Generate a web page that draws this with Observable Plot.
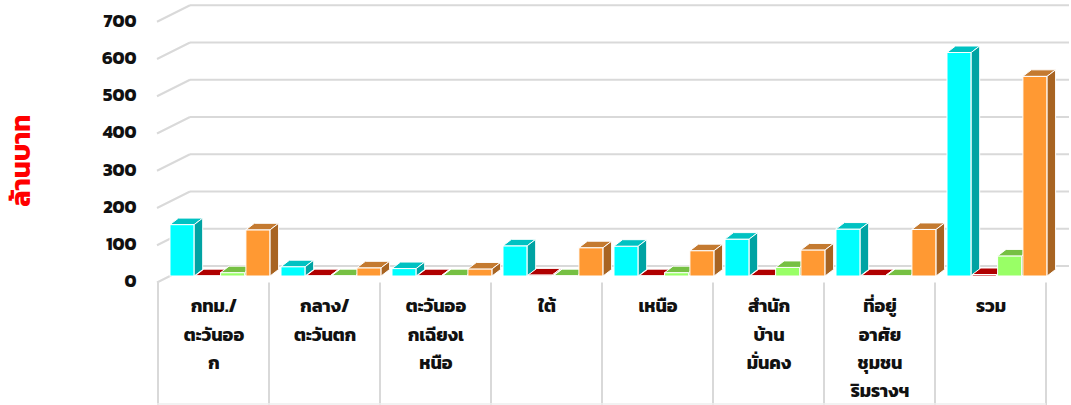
<!DOCTYPE html>
<html>
<head>
<meta charset="utf-8">
<script src="https://cdn.jsdelivr.net/npm/d3@7"></script>
<script src="https://cdn.jsdelivr.net/npm/@observablehq/plot@0.6"></script>
<style>
  html, body { margin: 0; padding: 0; background: #fff; }
  #chart svg { display: block; }
</style>
</head>
<body>
<div id="chart"></div>
<script>
// ---- data ----
const categories = ["กทม./ตะวันออก", "กลาง/ตะวันตก", "ตะวันออกเฉียงเหนือ", "ใต้", "เหนือ", "สำนักบ้านมั่นคง", "ที่อยู่อาศัยชุมชนริมรางฯ", "รวม"];
const categoryLabels = ["กทม./\nตะวันออ\nก", "กลาง/\nตะวันตก", "ตะวันออ\nกเฉียงเ\nหนือ", "ใต้", "เหนือ", "สำนัก\nบ้าน\nมั่นคง", "ที่อยู่\nอาศัย\nชุมชน\nริมรางฯ", "รวม"];
const seriesNames = ["ชุดที่ 1", "ชุดที่ 2", "ชุดที่ 3", "ชุดที่ 4"];
const series1 = [138, 25, 20, 81, 80, 99, 126, 600];   // cyan
const series2 = [1, 1, 1, 3, 1, 1, 1, 4];              // red
const series3 = [9, 1, 1, 1, 9, 23, 1, 54];            // green
const series4 = [124, 22, 19, 76, 68, 70, 125, 536];   // orange
const yTicks = [0, 100, 200, 300, 400, 500, 600, 700];
const yLabel = "ล้านบาท";

// ---- styles ----
const seriesValues = [series1, series2, series3, series4];
const fronts = ["#00FFFF", "#C00000", "#99FF66", "#FF9933"];
const tops   = ["#00C2C2", "#B00000", "#76C043", "#C47A30"];
const sides  = ["#00A3A3", "#8A0000", "#5E9F33", "#A86422"];
const FONT = "Kanit, Prompt, 'Noto Sans Thai', Tahoma, Loma, Garuda, 'Noto Sans', sans-serif";

const W = 1071, H = 405;
const mL = 157, mR = 25, mT = 15.25, mB = 129;
const BAND = (W - mL - mR) / categories.length;
const OFF = 12, STEP = 25.3, BW = 24.2;   // bar placement inside a category band
const DX = 8.5, DY = -6.5;               // bar depth
const WX = 33, WFront = 6.5, WBack = -10; // wall/floor depth

const rows = categories.flatMap((c, i) =>
  seriesNames.map((s, k) => ({cat: c, series: s, k, value: seriesValues[k][i]})));

// back-wall grid, left stubs, category dividers
function gridMark(index, scales) {
  const g = d3.create("svg:g").attr("fill", "none").attr("stroke", "#d9d9d9").attr("stroke-width", 2);
  for (const t of yTicks) {
    const y = scales.y(t);
    g.append("line").attr("x1", mL + WX).attr("x2", W - 2).attr("y1", y + WBack).attr("y2", y + WBack);
    g.append("line").attr("x1", mL).attr("x2", mL + WX).attr("y1", y + WFront).attr("y2", y + WBack);
  }
  const edges = categories.map(c => scales.x(c)).concat([scales.x(categories[categories.length - 1]) + scales.x.bandwidth()]);
  const y0 = scales.y(0) + WFront;
  for (const x of edges) {
    g.append("line").attr("x1", x).attr("x2", x).attr("y1", y0).attr("y2", H);
  }
  g.append("line").attr("x1", mL).attr("x2", edges[edges.length - 1]).attr("y1", H - 1).attr("y2", H - 1).attr("stroke-width", 1.5).attr("stroke", "#eeeeee");
  return g.node();
}

// top and side faces for one series
function facesMark(k) {
  return (index, scales) => {
    const g = d3.create("svg:g").attr("stroke", "#ffffff").attr("stroke-width", 1).attr("stroke-linejoin", "round");
    categories.forEach((c, i) => {
      const v = seriesValues[k][i];
      const x0 = scales.x(c) + OFF + k * STEP;
      const x1 = x0 + BW;
      const yt = scales.y(v), yb = scales.y(0);
      g.append("polygon").attr("fill", tops[k])
        .attr("points", [[x0, yt], [x1, yt], [x1 + DX, yt + DY], [x0 + DX, yt + DY]].map(p => p.join(",")).join(" "));
      g.append("polygon").attr("fill", sides[k])
        .attr("points", [[x1, yt], [x1 + DX, yt + DY], [x1 + DX, yb + DY], [x1, yb]].map(p => p.join(",")).join(" "));
    });
    return g.node();
  };
}

const barMarks = seriesNames.flatMap((s, k) => [
  Plot.barY(rows.filter(d => d.k === k), {
    x: "cat", y: "value", fill: fronts[k], stroke: "#ffffff", strokeWidth: 1,
    insetLeft: OFF + k * STEP, insetRight: BAND - OFF - k * STEP - BW
  }),
  facesMark(k)
]);

const chart = Plot.plot({
  width: W, height: H,
  marginLeft: mL, marginRight: mR, marginTop: mT, marginBottom: mB,
  style: {fontFamily: FONT, background: "#fff", color: "#000", overflow: "visible"},
  x: {domain: categories, padding: 0, axis: null},
  y: {domain: [0, 700], axis: null},
  marks: [
    gridMark,
    ...barMarks,
    Plot.axisY(yTicks, {tickSize: 0, tickPadding: 21, dy: 5, fontSize: 18, fontWeight: "bold", label: null, fill: "#111"}),
    Plot.text(categories, {
      x: d => d, text: (d, i) => categoryLabels[i],
      frameAnchor: "bottom", lineAnchor: "top", dy: 16, lineHeight: 1.56,
      fontSize: 18, fontWeight: "bold", fill: "#111"
    }),
    Plot.text([yLabel], {
      text: d => d, frameAnchor: "left", textAnchor: "middle", dx: -136, dy: 14.5, rotate: -90,
      fontSize: 27, fontWeight: "bold", fill: "#ff0000"
    })
  ]
});
document.getElementById("chart").appendChild(chart);
</script>
</body>
</html>
